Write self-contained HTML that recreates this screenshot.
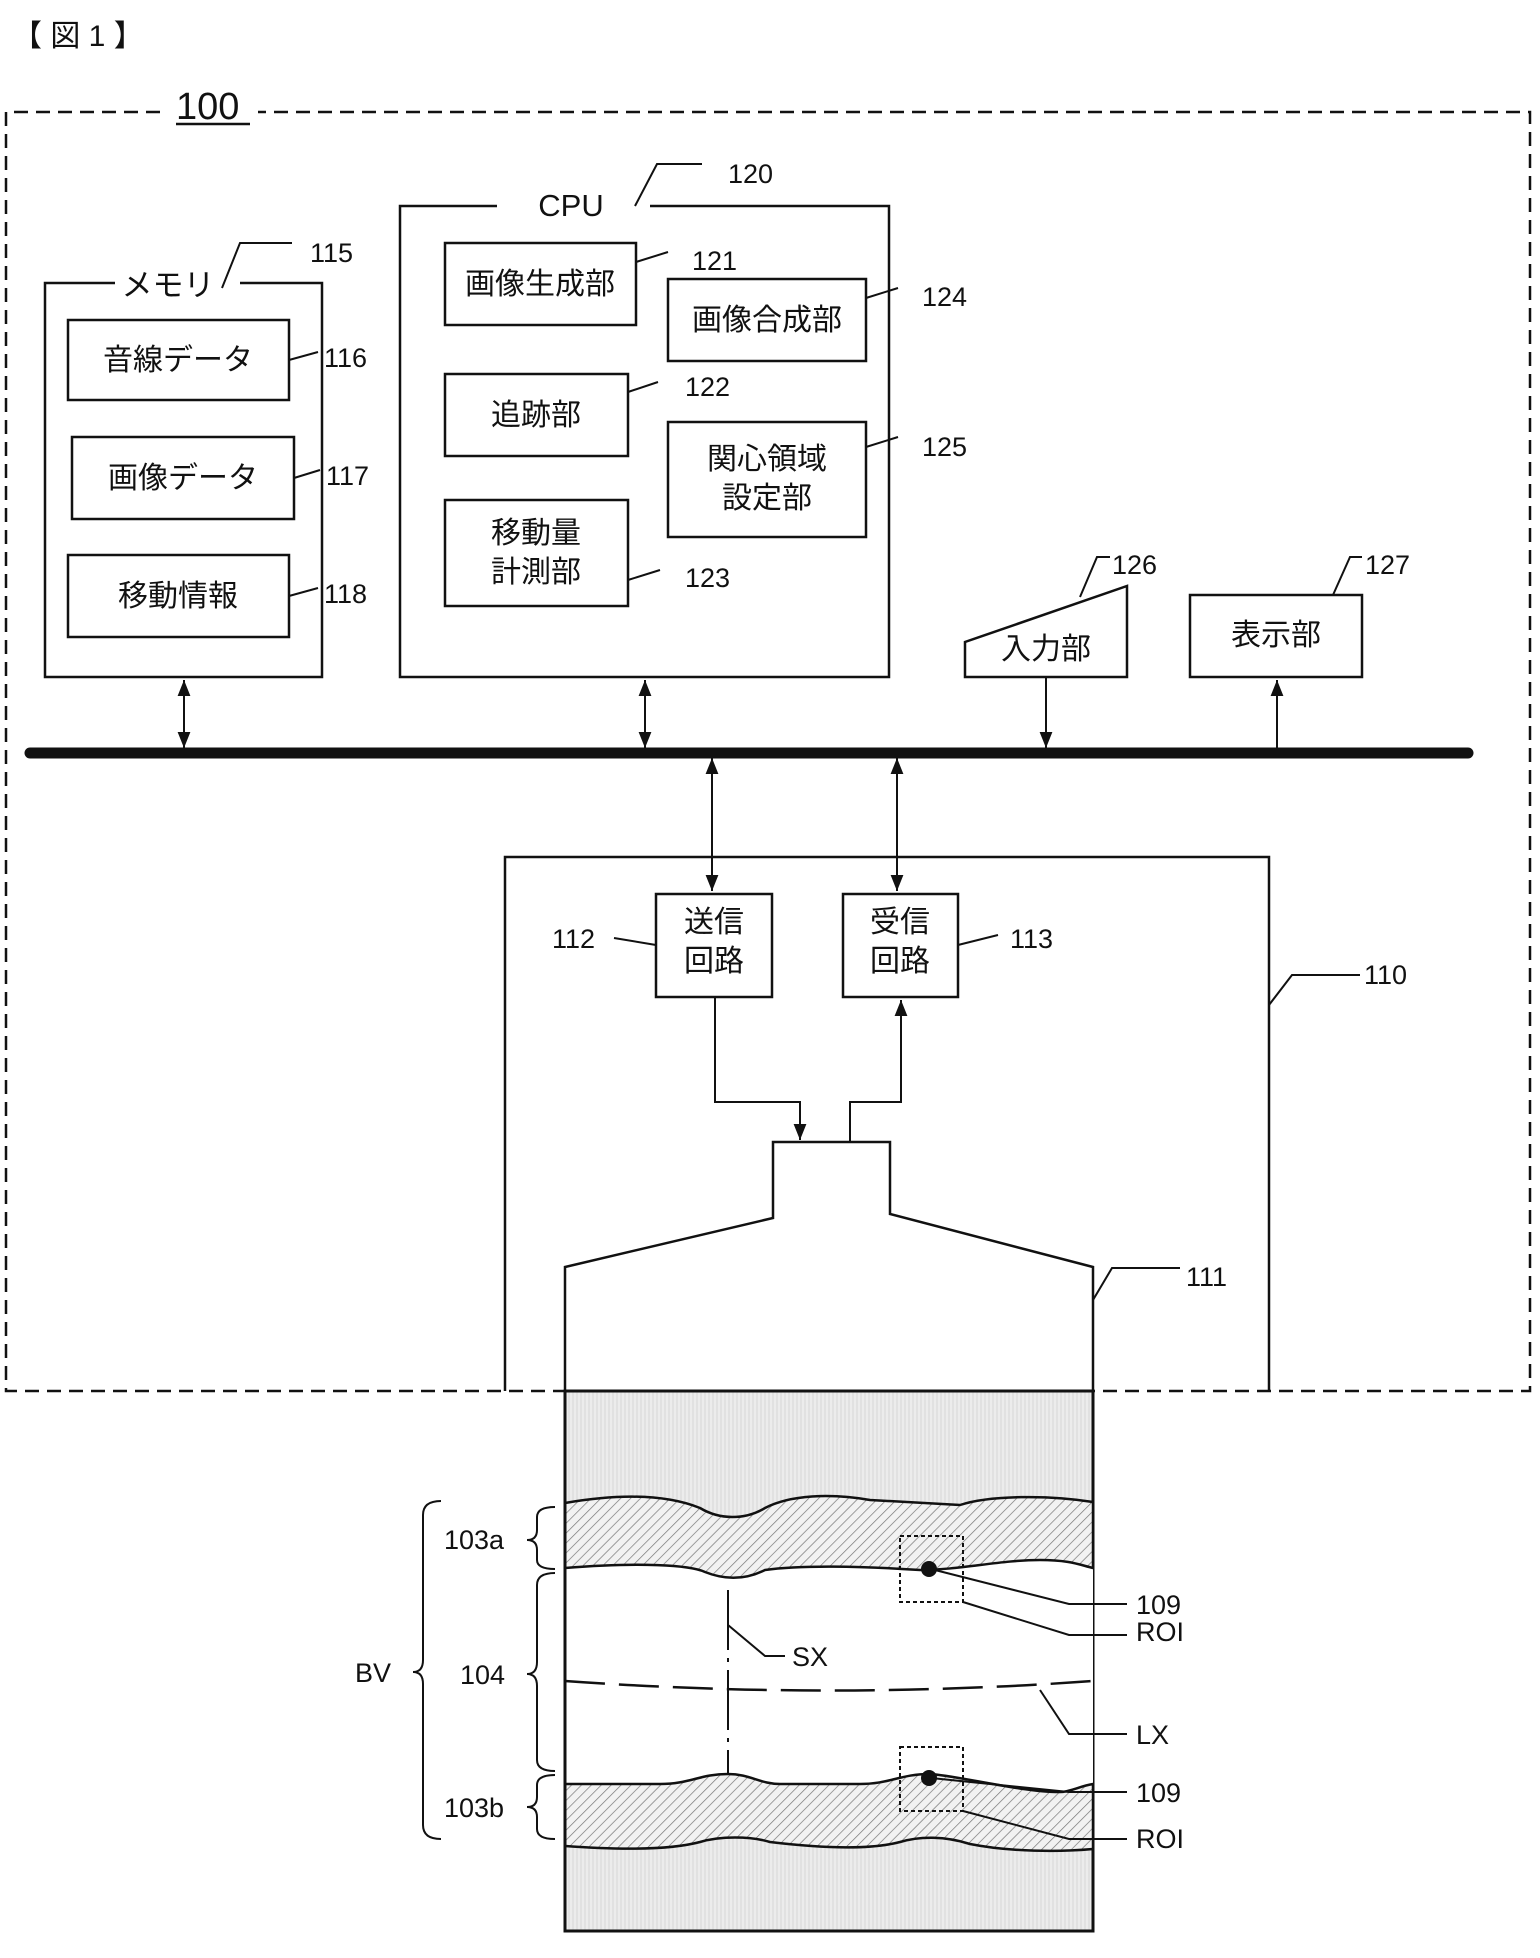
<!DOCTYPE html>
<html><head><meta charset="utf-8"><style>
html,body{margin:0;padding:0;background:#fff;}
svg{display:block;}
text{font-family:"Liberation Sans","Noto Sans CJK JP",sans-serif;fill:#111;}
.j{font-size:30px;text-anchor:middle;}
.n{font-size:27px;}
</style></head><body>
<svg width="1540" height="1958" viewBox="0 0 1540 1958" xmlns="http://www.w3.org/2000/svg">
<defs>
<pattern id="vs" width="4" height="10" patternUnits="userSpaceOnUse"><rect width="4" height="10" fill="#ececec"/><line x1="1" y1="0" x2="1" y2="10" stroke="#d6d6d6" stroke-width="1"/></pattern>
<pattern id="hatch" width="7" height="7" patternUnits="userSpaceOnUse" patternTransform="rotate(45)"><rect width="7" height="7" fill="#f2f2f2"/><line x1="0" y1="0" x2="0" y2="7" stroke="#777" stroke-width="1.4"/></pattern>
<marker id="ah" viewBox="0 0 10 10" refX="10" refY="5" markerWidth="18" markerHeight="16" markerUnits="userSpaceOnUse" orient="auto-start-reverse"><path d="M0,1 L10,5 L0,9 z" fill="#111"/></marker>
</defs>
<text x="12" y="46" style="font-size:30px;font-weight:normal">【 図 1 】</text>
<g stroke="#111" fill="none" stroke-width="2.5">
<path d="M160,112 H6 V1391 H1530 V112 H258" stroke-dasharray="14,8"/>
</g>
<text x="176" y="119" style="font-size:38px">100</text>
<line x1="176" y1="124" x2="250" y2="124" stroke="#111" stroke-width="2.5"/>

<rect x="565" y="1391" width="528" height="540" fill="url(#vs)" stroke="#111" stroke-width="3"/>
<path d="M565,1568 C640,1562 690,1565 705,1572 C725,1580 745,1580 765,1570 C800,1565 860,1566 920,1570 C960,1570 1000,1560 1040,1560 C1070,1560 1080,1565 1093,1568 L1093,1784 C1080,1786 1070,1792 1060,1792 C1020,1792 960,1776 930,1774 C900,1774 890,1784 860,1784 L780,1784 C760,1784 750,1774 728,1774 C700,1774 690,1784 660,1784 L565,1784 Z" fill="#fff" stroke="none"/>
<path d="M565,1503 C640,1490 680,1500 700,1508 C720,1520 745,1520 765,1508 C790,1495 830,1493 870,1500 L960,1505 C990,1495 1050,1495 1093,1502 L1093,1568 C1080,1565 1070,1560 1040,1560 C1000,1560 960,1570 920,1570 C860,1566 800,1565 765,1570 C745,1580 725,1580 705,1572 C690,1565 640,1562 565,1568 Z" fill="url(#hatch)" stroke="#111" stroke-width="2.5"/>
<path d="M565,1784 L660,1784 C690,1784 700,1774 728,1774 C750,1774 760,1784 780,1784 L860,1784 C890,1784 900,1774 930,1774 C960,1776 1020,1792 1060,1792 C1070,1792 1080,1786 1093,1784 L1093,1849 C1060,1852 1010,1852 970,1844 C945,1836 920,1836 900,1842 C870,1850 820,1848 770,1842 C750,1836 720,1836 700,1842 C670,1850 620,1850 565,1846 Z" fill="url(#hatch)" stroke="#111" stroke-width="2.5"/>
<line x1="565" y1="1391" x2="565" y2="1931" stroke="#111" stroke-width="3"/>

<g stroke="#111" fill="none" stroke-width="2">
<path d="M565,1681 Q830,1700 1093,1681" stroke-dasharray="40,14" stroke-width="2.5"/>
<path d="M728,1590 V1774" stroke-dasharray="60,8,4,8"/>
<path d="M728,1625 L765,1656 H785"/>
<path d="M1040,1690 L1069,1734 H1127"/>
<rect x="900" y="1536" width="63" height="66" stroke-dasharray="4,3"/>
<rect x="900" y="1747" width="63" height="64" stroke-dasharray="4,3"/>
<path d="M931,1569 L1069,1604 H1127"/>
<path d="M963,1602 L1069,1635 H1127"/>
<path d="M931,1778 L1069,1792 H1127"/>
<path d="M963,1811 L1069,1839 H1127"/>
<path d="M441,1501 Q423,1501 423,1515 V1660 Q423,1672 413,1672 Q423,1672 423,1684 V1825 Q423,1839 441,1839"/>
<path d="M555,1507 Q537,1507 537,1517 V1530 Q537,1540 527,1540 Q537,1540 537,1550 V1560 Q537,1569 555,1569"/>
<path d="M555,1573 Q537,1573 537,1585 V1662 Q537,1674 527,1674 Q537,1674 537,1686 V1760 Q537,1771 555,1771"/>
<path d="M555,1775 Q537,1775 537,1785 V1797 Q537,1807 527,1807 Q537,1807 537,1817 V1829 Q537,1839 555,1839"/>
</g>
<circle cx="929" cy="1569" r="8" fill="#111"/>
<circle cx="929" cy="1778" r="8" fill="#111"/>
<g>
<text x="1136" y="1614" class="n">109</text>
<text x="1136" y="1641" class="n">ROI</text>
<text x="1136" y="1744" class="n">LX</text>
<text x="1136" y="1802" class="n">109</text>
<text x="1136" y="1848" class="n">ROI</text>
<text x="792" y="1666" class="n">SX</text>
<text x="355" y="1682" class="n">BV</text>
<text x="444" y="1549" class="n">103a</text>
<text x="460" y="1684" class="n">104</text>
<text x="444" y="1817" class="n">103b</text>
</g>

<g stroke="#111" fill="none" stroke-width="2.5">
<path d="M115,283 H45 V677 H322 V283 H240"/>
<rect x="68" y="320" width="221" height="80"/>
<rect x="72" y="437" width="222" height="82"/>
<rect x="68" y="555" width="221" height="82"/>
<path d="M222,288 L240,243 H292" stroke-width="2"/>
<path d="M289,360 L318,352 M294,478 L320,470 M289,596 L318,588" stroke-width="2"/>
<path d="M497,206 H400 V677 H889 V206 H650"/>
<path d="M635,206 L657,164 H702" stroke-width="2"/>
<rect x="445" y="243" width="191" height="82"/>
<rect x="668" y="279" width="198" height="82"/>
<rect x="445" y="374" width="183" height="82"/>
<rect x="668" y="422" width="198" height="115"/>
<rect x="445" y="500" width="183" height="106"/>
<path d="M636,262 L668,252 M866,298 L898,288 M628,392 L658,382 M866,447 L898,437 M628,580 L660,570" stroke-width="2"/>
<path d="M965,677 V642 L1127,586 V677 Z"/>
<path d="M1080,597 L1097,557 H1110" stroke-width="2"/>
<rect x="1190" y="595" width="172" height="82"/>
<path d="M1333,595 L1350,557 H1362" stroke-width="2"/>
<line x1="30" y1="753" x2="1468" y2="753" stroke-width="11" stroke-linecap="round"/>
<line x1="184" y1="680" x2="184" y2="748" marker-start="url(#ah)" marker-end="url(#ah)" stroke-width="2"/>
<line x1="645" y1="680" x2="645" y2="748" marker-start="url(#ah)" marker-end="url(#ah)" stroke-width="2"/>
<line x1="1046" y1="677" x2="1046" y2="748" marker-end="url(#ah)" stroke-width="2"/>
<line x1="1277" y1="748" x2="1277" y2="680" marker-end="url(#ah)" stroke-width="2"/>
<line x1="712" y1="758" x2="712" y2="891" marker-start="url(#ah)" marker-end="url(#ah)" stroke-width="2"/>
<line x1="897" y1="758" x2="897" y2="891" marker-start="url(#ah)" marker-end="url(#ah)" stroke-width="2"/>
<path d="M505,1391 V857 H1269 V1391"/>
<path d="M1269,1005 L1292,975 H1360" stroke-width="2"/>
<rect x="656" y="894" width="116" height="103"/>
<rect x="843" y="894" width="115" height="103"/>
<path d="M614,938 L656,945 M958,945 L998,935" stroke-width="2"/>
<path d="M715,997 V1102 H800 V1140" stroke-width="2" marker-end="url(#ah)"/>
<path d="M850,1142 V1102 H901 V1000" stroke-width="2" marker-end="url(#ah)"/>
<path d="M565,1391 V1267 L773,1218 V1142 H890 V1214 L1093,1267 V1391"/>
<path d="M1093,1300 L1112,1268 H1180" stroke-width="2"/>
</g>

<g>
<text x="168" y="296" class="j" style="font-size:31px">メモリ</text>
<text x="571" y="216" style="font-size:31px;text-anchor:middle">CPU</text>
<text x="178" y="370" class="j">音線データ</text>
<text x="183" y="488" class="j">画像データ</text>
<text x="178" y="606" class="j">移動情報</text>
<text x="540" y="294" class="j">画像生成部</text>
<text x="767" y="330" class="j">画像合成部</text>
<text x="536" y="425" class="j">追跡部</text>
<text x="767" y="469" class="j">関心領域</text>
<text x="767" y="508" class="j">設定部</text>
<text x="536" y="543" class="j">移動量</text>
<text x="536" y="582" class="j">計測部</text>
<text x="1046" y="659" class="j">入力部</text>
<text x="1276" y="645" class="j">表示部</text>
<text x="714" y="932" class="j">送信</text>
<text x="714" y="971" class="j">回路</text>
<text x="900" y="932" class="j">受信</text>
<text x="900" y="971" class="j">回路</text>
</g>
<g>
<text x="310" y="262" class="n">115</text>
<text x="728" y="183" class="n">120</text>
<text x="324" y="367" class="n">116</text>
<text x="326" y="485" class="n">117</text>
<text x="324" y="603" class="n">118</text>
<text x="692" y="270" class="n">121</text>
<text x="922" y="306" class="n">124</text>
<text x="685" y="396" class="n">122</text>
<text x="922" y="456" class="n">125</text>
<text x="685" y="587" class="n">123</text>
<text x="1112" y="574" class="n">126</text>
<text x="1365" y="574" class="n">127</text>
<text x="1364" y="984" class="n">110</text>
<text x="552" y="948" class="n">112</text>
<text x="1010" y="948" class="n">113</text>
<text x="1186" y="1286" class="n">111</text>
</g>
</svg>
</body></html>
